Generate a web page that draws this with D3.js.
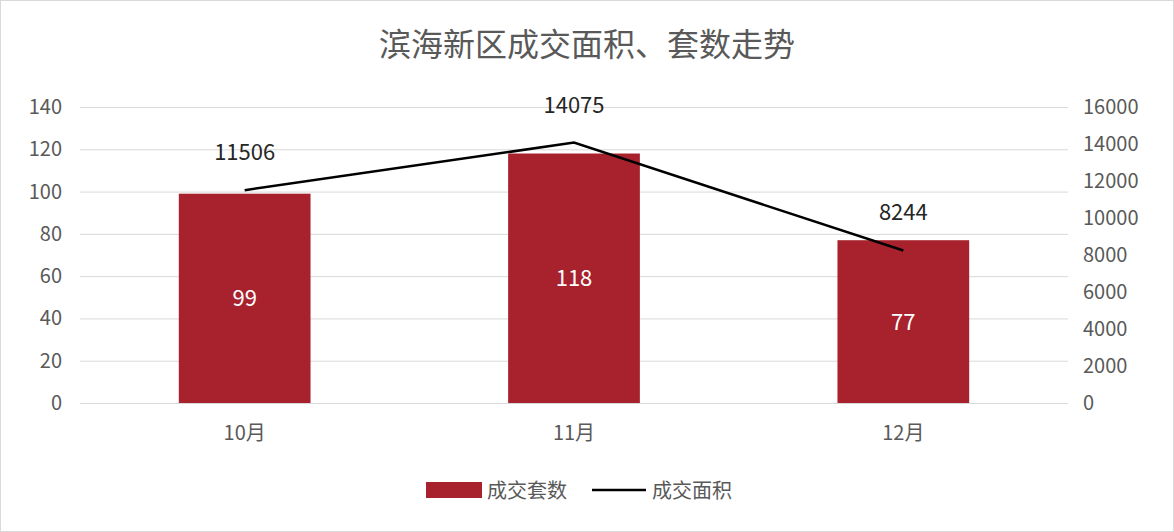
<!DOCTYPE html>
<html><head><meta charset="utf-8">
<script src="https://cdn.jsdelivr.net/npm/d3@7"></script>
<style>body{margin:0;background:#fff}svg{display:block}</style>
</head><body><svg id="target"></svg>
<script>
const months = ["10月", "11月", "12月"];
const units = [99, 118, 77];
const areas = [11506, 14075, 8244];
const leftTicks = [0, 20, 40, 60, 80, 100, 120, 140];
const rightTicks = [0, 2000, 4000, 6000, 8000, 10000, 12000, 14000, 16000];

const width = 1174, height = 532;
const font = "'Noto Sans CJK SC', 'Noto Sans', sans-serif";
const textColor = "#595959";
const barColor = "#a8222d";
const svg = d3.select("#target").attr("width", width).attr("height", height)
  .style("font-family", font);

svg.append("rect").attr("x", 0.5).attr("y", 0.5).attr("width", width - 1).attr("height", height - 1)
  .attr("fill", "#fff").attr("stroke", "#d9d9d9");

const x = d3.scaleBand().domain(months).range([80, 1068]).paddingInner(0.6).paddingOuter(0.3);
const yL = d3.scaleLinear().domain([0, 140]).range([403, 107]);
const yR = d3.scaleLinear().domain([0, 16000]).range([403, 107]);

svg.append("g").selectAll("line").data(leftTicks).enter().append("line")
  .attr("x1", 80).attr("x2", 1068)
  .attr("y1", d => yL(d) + 0.5).attr("y2", d => yL(d) + 0.5)
  .attr("stroke", "#d9d9d9");

svg.append("g").selectAll("text").data(leftTicks).enter().append("text")
  .attr("x", 62).attr("y", d => yL(d) + 7).attr("text-anchor", "end")
  .attr("font-size", 20).attr("fill", textColor).text(d => d);

svg.append("g").selectAll("text").data(rightTicks).enter().append("text")
  .attr("x", 1083).attr("y", d => yR(d) + 7).attr("text-anchor", "start")
  .attr("font-size", 20).attr("fill", textColor).text(d => d);

svg.append("g").selectAll("text").data(months).enter().append("text")
  .attr("x", d => x(d) + x.bandwidth() / 2).attr("y", 440).attr("text-anchor", "middle")
  .attr("font-size", 20).attr("fill", textColor).text(d => d);

svg.append("g").selectAll("rect").data(units).enter().append("rect")
  .attr("x", (d, i) => x(months[i])).attr("width", x.bandwidth())
  .attr("y", d => yL(d)).attr("height", d => yL(0) - yL(d)).attr("fill", barColor);

svg.append("g").selectAll("text").data(units).enter().append("text")
  .attr("x", (d, i) => x(months[i]) + x.bandwidth() / 2)
  .attr("y", d => (yL(d) + yL(0)) / 2 + 8).attr("text-anchor", "middle")
  .attr("font-size", 22).attr("fill", "#fff").text(d => d);

const line = d3.line().x((d, i) => x(months[i]) + x.bandwidth() / 2).y(d => yR(d));
svg.append("path").datum(areas).attr("d", line).attr("fill", "none")
  .attr("stroke", "#000").attr("stroke-width", 2.5);

svg.append("g").selectAll("text").data(areas).enter().append("text")
  .attr("x", (d, i) => x(months[i]) + x.bandwidth() / 2)
  .attr("y", d => yR(d) - 30).attr("text-anchor", "middle")
  .attr("font-size", 22).attr("fill", "#262626").text(d => d);

svg.append("text").attr("x", width / 2).attr("y", 56).attr("text-anchor", "middle")
  .attr("font-size", 32).attr("fill", textColor).text("滨海新区成交面积、套数走势");

const lg = svg.append("g");
lg.append("rect").attr("x", 426).attr("y", 482).attr("width", 56).attr("height", 16).attr("fill", barColor);
lg.append("text").attr("x", 487).attr("y", 498).attr("font-size", 20).attr("fill", textColor).text("成交套数");
lg.append("line").attr("x1", 592).attr("x2", 646).attr("y1", 490).attr("y2", 490)
  .attr("stroke", "#000").attr("stroke-width", 2.5);
lg.append("text").attr("x", 652).attr("y", 498).attr("font-size", 20).attr("fill", textColor).text("成交面积");
</script></body></html>
